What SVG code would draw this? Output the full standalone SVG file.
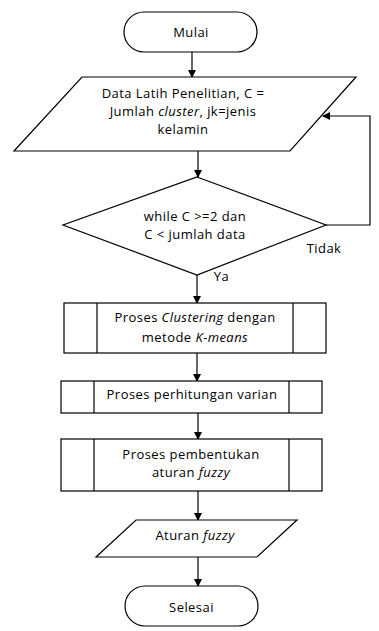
<svg xmlns="http://www.w3.org/2000/svg" width="379" height="631" viewBox="0 0 379 631">
<style>
.s{fill:#fff;stroke:#000;stroke-width:1.2}
.t{font-family:"Open Sans","Liberation Sans",Arial,sans-serif;font-size:13px;letter-spacing:0.45px;fill:#000;text-anchor:middle}
.c{fill:none;stroke:#000;stroke-width:1.2}
</style>
<defs>
<marker id="a" markerWidth="8" markerHeight="8" refX="7" refY="4" orient="auto" markerUnits="userSpaceOnUse">
<path d="M0,0 L8,4 L0,8 Z" fill="#000"/>
</marker>
</defs>
<rect width="379" height="631" fill="#fff"/>
<g id="connectors">
<line class="c" x1="192" y1="52" x2="192" y2="77" marker-end="url(#a)"/>
<line class="c" x1="198" y1="151" x2="198" y2="177" marker-end="url(#a)"/>
<polyline class="c" points="326,225 370,225 370,116 323,116" marker-end="url(#a)"/>
<line class="c" x1="197" y1="275" x2="197" y2="303" marker-end="url(#a)"/>
<line class="c" x1="197" y1="353" x2="197" y2="381" marker-end="url(#a)"/>
<line class="c" x1="198" y1="413" x2="198" y2="439" marker-end="url(#a)"/>
<line class="c" x1="198" y1="491" x2="198" y2="520" marker-end="url(#a)"/>
<line class="c" x1="198" y1="557" x2="198" y2="586" marker-end="url(#a)"/>
<text class="t" x="324" y="253">Tidak</text>
<text class="t" x="221.5" y="281">Ya</text>
</g>
<g id="mulai">
<rect class="s" x="124" y="12" width="133" height="40" rx="20" ry="20"/>
<text class="t" x="191" y="37">Mulai</text>
</g>
<g id="input">
<polygon class="s" points="82,77 356,77 290,151 14,151"/>
<text class="t" x="183" y="98">Data Latih Penelitian, C =</text>
<text class="t" x="183" y="116">Jumlah <tspan font-style="italic">cluster</tspan>, jk=jenis</text>
<text class="t" x="183" y="134">kelamin</text>
</g>
<g id="decision">
<polygon class="s" points="197,177 326,225 197,275 63,225"/>
<text class="t" x="195" y="221">while C &gt;=2 dan</text>
<text class="t" x="195" y="239">C &lt; jumlah data</text>
</g>
<g id="proses1">
<rect class="s" x="64" y="303" width="262" height="50"/>
<line class="c" x1="97" y1="303" x2="97" y2="353"/>
<line class="c" x1="293" y1="303" x2="293" y2="353"/>
<text class="t" x="195" y="322">Proses <tspan font-style="italic">Clustering</tspan> dengan</text>
<text class="t" x="195" y="342">metode <tspan font-style="italic">K-means</tspan></text>
</g>
<g id="proses2">
<rect class="s" x="61" y="381" width="261" height="32"/>
<line class="c" x1="94" y1="381" x2="94" y2="413"/>
<line class="c" x1="289" y1="381" x2="289" y2="413"/>
<text class="t" x="192" y="399">Proses perhitungan varian</text>
</g>
<g id="proses3">
<rect class="s" x="61" y="439" width="261" height="52"/>
<line class="c" x1="94" y1="439" x2="94" y2="491"/>
<line class="c" x1="289" y1="439" x2="289" y2="491"/>
<text class="t" x="191" y="459">Proses pembentukan</text>
<text class="t" x="191" y="477">aturan <tspan font-style="italic">fuzzy</tspan></text>
</g>
<g id="output">
<polygon class="s" points="136,520 297,520 257,557 96,557"/>
<text class="t" x="195" y="540">Aturan <tspan font-style="italic">fuzzy</tspan></text>
</g>
<g id="selesai">
<rect class="s" x="125" y="586" width="133" height="40" rx="20" ry="20"/>
<text class="t" x="191.5" y="612">Selesai</text>
</g>
</svg>
